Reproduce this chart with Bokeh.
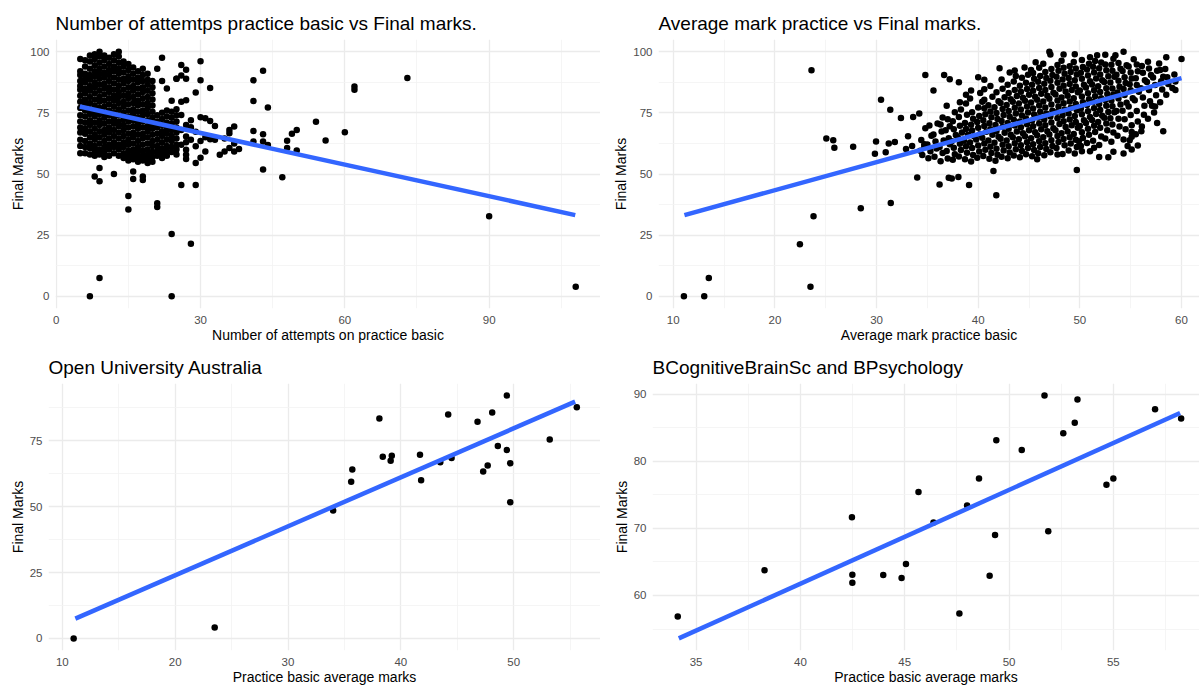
from bokeh.plotting import figure
from bokeh.layouts import column, row
from bokeh.models import FixedTicker, Range1d
from bokeh.embed import file_html
from bokeh.resources import INLINE

FONT = "Liberation Sans"

# ---------------- Panel 1: attempts vs final marks ----------------
att_points = [
    (5, 97), (5, 92), (5, 90.5), (5, 88), (5, 86), (5, 84.5), (5, 82), (5, 79.5), (5, 77), (5, 74), (5, 71.5), (5, 69), (5, 67), (5, 64), (5, 61.5), (5, 58.5),
    (6, 96.5), (6, 94), (6, 91), (6, 89), (6, 87.5), (6, 85), (6, 83), (6, 80.5), (6, 78.5), (6, 76), (6, 73.5), (6, 71), (6, 68.5), (6, 66.5), (6, 63.5), (6, 61), (6, 58.5),
    (7, 98.5), (7, 96), (7, 93), (7, 90.5), (7, 88.5), (7, 86), (7, 84), (7, 81.5), (7, 79), (7, 76.5), (7, 74.5), (7, 72), (7, 70), (7, 67.5), (7, 65), (7, 62.5), (7, 60.5), (7, 58), (7, 0),
    (8, 99), (8, 97), (8, 94.5), (8, 92), (8, 90), (8, 87.5), (8, 85.5), (8, 83), (8, 80.5), (8, 78), (8, 75.5), (8, 73.5), (8, 71), (8, 68.5), (8, 66), (8, 64), (8, 61.5), (8, 59.5), (8, 57.5), (8, 49),
    (9, 100), (9, 98), (9, 95.5), (9, 93), (9, 91), (9, 89), (9, 86.5), (9, 84), (9, 81.5), (9, 79.5), (9, 77), (9, 74.5), (9, 72), (9, 70), (9, 67.5), (9, 65), (9, 62.5), (9, 60), (9, 58), (9, 52.5), (9, 47), (9, 7.5),
    (10, 98.5), (10, 96.5), (10, 94), (10, 91.5), (10, 89.5), (10, 87), (10, 85), (10, 82.5), (10, 80), (10, 77.5), (10, 75), (10, 73), (10, 70.5), (10, 68), (10, 66), (10, 63.5), (10, 61), (10, 59), (10, 57),
    (11, 97.5), (11, 95), (11, 92.5), (11, 90.5), (11, 88), (11, 85.5), (11, 83.5), (11, 81), (11, 78.5), (11, 76), (11, 74), (11, 71.5), (11, 69), (11, 67), (11, 64.5), (11, 62), (11, 60), (11, 57.5),
    (12, 99), (12, 96.5), (12, 94), (12, 92), (12, 89.5), (12, 87), (12, 84.5), (12, 82), (12, 80), (12, 77.5), (12, 75), (12, 72.5), (12, 70.5), (12, 68), (12, 65.5), (12, 63), (12, 61), (12, 58.5), (12, 50),
    (13, 100), (13, 98), (13, 95.5), (13, 93), (13, 91), (13, 88.5), (13, 86), (13, 83.5), (13, 81.5), (13, 79), (13, 76.5), (13, 74), (13, 71.5), (13, 69.5), (13, 67), (13, 64.5), (13, 62), (13, 60), (13, 57.5),
    (14, 96), (14, 94), (14, 91.5), (14, 89), (14, 87), (14, 84.5), (14, 82), (14, 79.5), (14, 77.5), (14, 75), (14, 72.5), (14, 70), (14, 68), (14, 65.5), (14, 63), (14, 61), (14, 58.5), (14, 56.5),
    (15, 95), (15, 92.5), (15, 90), (15, 88), (15, 85.5), (15, 83), (15, 81), (15, 78.5), (15, 76), (15, 73.5), (15, 71.5), (15, 69), (15, 66.5), (15, 64), (15, 62), (15, 59.5), (15, 57.5), (15, 55.5), (15, 41), (15, 35.5),
    (16, 93.5), (16, 91), (16, 88.5), (16, 86), (16, 84), (16, 81.5), (16, 79), (16, 76.5), (16, 74.5), (16, 72), (16, 69.5), (16, 67), (16, 65), (16, 62.5), (16, 60), (16, 58), (16, 56), (16, 51), (16, 48),
    (17, 92), (17, 89.5), (17, 87.5), (17, 85), (17, 82.5), (17, 80), (17, 78), (17, 75.5), (17, 73), (17, 70.5), (17, 68.5), (17, 66), (17, 63.5), (17, 61), (17, 59), (17, 57), (17, 55),
    (18, 93), (18, 90.5), (18, 88), (18, 85.5), (18, 83.5), (18, 81), (18, 78.5), (18, 76), (18, 74), (18, 71.5), (18, 69), (18, 66.5), (18, 64.5), (18, 62), (18, 59.5), (18, 57.5), (18, 55.5), (18, 49), (18, 47.5),
    (19, 91), (19, 88.5), (19, 86.5), (19, 84), (19, 81.5), (19, 79), (19, 77), (19, 74.5), (19, 72), (19, 69.5), (19, 67.5), (19, 65), (19, 62.5), (19, 60), (19, 58), (19, 56), (19, 54.5),
    (20, 88), (20, 85.5), (20, 83), (20, 80.5), (20, 78), (20, 75.5), (20, 73), (20, 70.5), (20, 68.5), (20, 66), (20, 63.5), (20, 61.5), (20, 59), (20, 57), (20, 55),
    (21, 93), (21, 74), (21, 71.5), (21, 69), (21, 66.5), (21, 64), (21, 61.5), (21, 59.5), (21, 57.5), (21, 38), (21, 36.5),
    (22, 97.5), (22, 88), (22, 75), (22, 72.5), (22, 70), (22, 67.5), (22, 65.5), (22, 63), (22, 60.5), (22, 58.5), (22, 56.5),
    (23, 85), (23, 76), (23, 73.5), (23, 71), (23, 68.5), (23, 66.5), (23, 64), (23, 61.5), (23, 59.5), (23, 57.5),
    (24, 80), (24, 75.5), (24, 73), (24, 70.5), (24, 68), (24, 65.5), (24, 63.5), (24, 61), (24, 59), (24, 25.5), (24, 0),
    (25, 89), (25, 76.5), (25, 74), (25, 71.5), (25, 69), (25, 67), (25, 64.5), (25, 62), (25, 60), (25, 58),
    (26, 94.6), (27, 92.6), (30, 96.1), (25, 88.9), (26, 90.3), (27, 88.9), (30, 88.3), (29, 83.3), (32, 85.2),
    (26, 79.5), (27, 80.2), (41, 88.3), (43, 92.2), (41, 79.9), (44, 77.2), (62, 85.8), (62, 84.5),
    (26, 74.1), (30, 73.2), (31, 72.8), (32, 71.7), (33, 69.6), (36, 68.0), (37, 69.4), (36, 66.7),
    (41, 67.6), (43, 66.3), (49, 66.5), (50, 68.0), (54, 71.4), (60, 67.1), (56, 63.7), (41, 63.3),
    (43, 63.3), (44, 61.9), (48, 63.6), (48, 60.6), (50, 59.6), (43, 51.8), (47, 48.7),
    (27, 65.3), (28, 64.0), (29, 61.3), (27, 59.9), (27, 57.9), (27, 56.1), (29, 54.5), (30, 56.6),
    (31, 59.2), (32, 64.2), (33, 64.0), (34, 57.9), (35, 59.2), (36, 60.6), (37, 59.2), (38, 60.2),
    (26, 45.5), (29, 45.5), (28, 21.5), (28, 69.1), (29, 67.3), (73, 89.3), (90, 32.7), (108, 3.9),
    (37, 62.5), (35, 64.5), (26, 68), (27, 70), (28, 72), (26, 62), (27, 63), (30, 63.5), (31, 65),
]
att_x = [p[0] for p in att_points]
att_y = [p[1] for p in att_points]
att_fit_x = [4.9, 107.9]
att_fit_y = [77.6, 33.2]

# ---------------- Panel 2: average mark vs final marks ----------------
avg_points = [
    (11.05, 0), (13.05, 0), (13.5, 7.45), (23.5, 3.9), (22.46, 21.3), (23.8, 32.7), (23.6, 92.4),
    (28.45, 36.0), (31.4, 38.1), (25.06, 64.5), (25.74, 63.8), (25.85, 60.7), (27.7, 61.1),
    (29.95, 63.3), (29.84, 58.3), (30.9, 58.9), (31.2, 62.5), (31.8, 63.1), (30.44, 80.4),
    (31.35, 76.3), (32.4, 72.9), (33.1, 65.4), (33.6, 73.3), (34.2, 74.7), (34.8, 90.5),
    (35.6, 84.1), (34.0, 48.6), (36.2, 45.7), (37.1, 48.5), (37.4, 48.2), (38.05, 48.8),
    (39.1, 45.5), (41.78, 41.3), (41.5, 51.2), (49.7, 51.6), (36.65, 90.5), (37.2, 88.75),
    (38.1, 87.5), (36.9, 77.9), (38.2, 79.3), (38.8, 82.4), (39.3, 84.1), (40.0, 89.6),
    (40.6, 88.5), (40.6, 84.7), (40.6, 80.4), (42.1, 93.2), (43.1, 91.5), (43.6, 92.3),
    (44.56, 93.6), (45.2, 92.5), (45.65, 95.7), (47.0, 100), (47.1, 98.9), (48.4, 98.9),
    (49.5, 99), (51.0, 97.7), (51.7, 98.6), (52.5, 98.8), (53.5, 98.6), (54.3, 100),
    (55.3, 96.9), (56.7, 95.9), (58.5, 97.7), (60.0, 97.0), (57.9, 92.5), (58.2, 89.8),
    (59.4, 87.8), (59.4, 84.4), (57.6, 70.9), (58.2, 67.5), (57.4, 77.6), (57.1, 77.9),
    (56.35, 77.9), (55.1, 67.2), (55.1, 65.2), (54.7, 61.4), (56.05, 67.5), (55.7, 61.7),
    (55.1, 60.0), (54.3, 58.4), (53.3, 59.1), (52.8, 56.9), (51.9, 57.0), (51.4, 60.7),
    (51.0, 59.3), (49.9, 63.4), (50.2, 59.3), (47.8, 58.0), (45.8, 56.0), (32.9, 60.2),
    (33.5, 61.5), (34.3, 59.5), (34.7, 62.2),
    (34.5, 57.8), (34.7, 61.2), (34.4, 63.9), (34.8, 68.7),
    (35.1, 56.4), (35.3, 59.3), (35.0, 62.1), (35.4, 65.6), (35.2, 69.8),
    (35.7, 57.1), (35.9, 60.4), (35.8, 63.3), (35.6, 66.2), (36.0, 70.6),
    (36.3, 55.2), (36.5, 58.6), (36.2, 61.0), (36.6, 63.7), (36.4, 67.4), (36.3, 70.2), (36.5, 73.1),
    (37.0, 56.3), (36.9, 59.4), (37.2, 62.2), (37.1, 64.6), (36.8, 67.9), (37.2, 69.5), (37.0, 72.4),
    (37.5, 55.8), (37.7, 58.1), (37.6, 60.7), (37.4, 63.4), (37.8, 65.9), (37.6, 68.3), (37.5, 71.6), (37.7, 75.2),
    (38.1, 57.2), (38.3, 59.8), (38.2, 62.4), (38.0, 64.9), (38.4, 67.0), (38.2, 69.7), (38.1, 73.3), (38.3, 76.4),
    (38.7, 56.0), (38.9, 58.7), (38.8, 61.3), (38.6, 63.6), (39.0, 66.1), (38.8, 68.4), (38.7, 70.9), (38.9, 74.2), (38.8, 78.8),
    (39.3, 55.1), (39.5, 57.8), (39.4, 60.6), (39.2, 62.9), (39.6, 65.4), (39.4, 67.8), (39.3, 70.1), (39.5, 72.6), (39.4, 75.3), (39.2, 80.9),
    (39.9, 56.6), (40.1, 59.2), (40.0, 61.7), (39.8, 64.1), (40.2, 66.4), (40.0, 68.9), (39.9, 71.3), (40.1, 73.7), (40.0, 77.2), (40.2, 83.1),
    (40.5, 57.4), (40.7, 59.9), (40.6, 62.5), (40.4, 64.8), (40.8, 67.3), (40.6, 69.6), (40.5, 72.0), (40.7, 74.4), (40.6, 76.9), (40.4, 79.5),
    (41.1, 56.2), (41.3, 58.6), (41.2, 61.1), (41.0, 63.7), (41.4, 66.0), (41.2, 68.3), (41.1, 70.8), (41.3, 73.2), (41.2, 75.6), (41.0, 78.1), (41.4, 81.6), (41.2, 86.0),
    (41.7, 55.4), (41.9, 57.9), (41.8, 60.3), (41.6, 62.8), (42.0, 65.2), (41.8, 67.6), (41.7, 70.0), (41.9, 72.5), (41.8, 74.9), (41.6, 77.3), (42.0, 79.8), (41.8, 83.4),
    (42.3, 57.1), (42.5, 59.6), (42.4, 62.0), (42.2, 64.4), (42.6, 66.9), (42.4, 69.3), (42.3, 71.7), (42.5, 74.1), (42.4, 76.6), (42.2, 79.0), (42.6, 81.4), (42.4, 84.9), (42.3, 88.6),
    (42.9, 56.4), (43.1, 58.8), (43.0, 61.3), (42.8, 63.7), (43.2, 66.1), (43.0, 68.5), (42.9, 70.9), (43.1, 73.4), (43.0, 75.8), (42.8, 78.2), (43.2, 80.6), (43.0, 83.1), (42.9, 86.5),
    (43.5, 57.6), (43.7, 60.1), (43.6, 62.6), (43.4, 65.0), (43.8, 67.4), (43.6, 69.8), (43.5, 72.2), (43.7, 74.7), (43.6, 77.1), (43.4, 79.5), (43.8, 81.9), (43.6, 84.4), (43.5, 87.8), (43.7, 90.1),
    (44.1, 56.9), (44.3, 59.4), (44.2, 61.8), (44.0, 64.2), (44.4, 66.7), (44.2, 69.1), (44.1, 71.5), (44.3, 73.9), (44.2, 76.4), (44.0, 78.8), (44.4, 81.2), (44.2, 83.6), (44.1, 86.1), (44.3, 89.4),
    (44.7, 58.1), (44.9, 60.6), (44.8, 63.0), (44.6, 65.4), (45.0, 67.9), (44.8, 70.3), (44.7, 72.7), (44.9, 75.1), (44.8, 77.6), (44.6, 80.0), (45.0, 82.4), (44.8, 84.8), (44.7, 87.3), (44.9, 90.6),
    (45.3, 57.3), (45.5, 59.8), (45.4, 62.2), (45.2, 64.6), (45.6, 67.1), (45.4, 69.5), (45.3, 71.9), (45.5, 74.3), (45.4, 76.8), (45.2, 79.2), (45.6, 81.6), (45.4, 84.0), (45.3, 86.5), (45.5, 88.9), (45.4, 91.3),
    (45.9, 58.5), (46.1, 61.0), (46.0, 63.4), (45.8, 65.8), (46.2, 68.3), (46.0, 70.7), (45.9, 73.1), (46.1, 75.5), (46.0, 78.0), (45.8, 80.4), (46.2, 82.8), (46.0, 85.2), (45.9, 87.7), (46.1, 90.1), (46.0, 93.4),
    (46.5, 57.7), (46.7, 60.2), (46.6, 62.6), (46.4, 65.0), (46.8, 67.5), (46.6, 69.9), (46.5, 72.3), (46.7, 74.7), (46.6, 77.2), (46.4, 79.6), (46.8, 82.0), (46.6, 84.4), (46.5, 86.9), (46.7, 89.3), (46.6, 91.7), (46.4, 95.1),
    (47.1, 58.9), (47.3, 61.4), (47.2, 63.8), (47.0, 66.2), (47.4, 68.7), (47.2, 71.1), (47.1, 73.5), (47.3, 75.9), (47.2, 78.4), (47.0, 80.8), (47.4, 83.2), (47.2, 85.6), (47.1, 88.1), (47.3, 90.5), (47.2, 92.9),
    (47.7, 60.6), (47.9, 63.1), (47.8, 65.5), (47.6, 67.9), (48.0, 70.4), (47.8, 72.8), (47.7, 75.2), (47.9, 77.6), (47.8, 80.1), (47.6, 82.5), (48.0, 84.9), (47.8, 87.3), (47.7, 89.8), (47.9, 92.2), (47.8, 94.6),
    (48.3, 58.2), (48.5, 61.8), (48.4, 64.3), (48.2, 66.7), (48.6, 69.2), (48.4, 71.6), (48.3, 74.0), (48.5, 76.4), (48.4, 78.9), (48.2, 81.3), (48.6, 83.7), (48.4, 86.1), (48.3, 88.6), (48.5, 91.0), (48.4, 93.4), (48.2, 96.3),
    (48.9, 59.6), (49.1, 62.5), (49.0, 65.0), (48.8, 67.4), (49.2, 69.9), (49.0, 72.3), (48.9, 74.7), (49.1, 77.1), (49.0, 79.6), (48.8, 82.0), (49.2, 84.4), (49.0, 86.8), (48.9, 89.3), (49.1, 91.7), (49.0, 94.1),
    (49.5, 58.4), (49.7, 61.0), (49.6, 64.0), (49.4, 66.4), (49.8, 68.9), (49.6, 71.3), (49.5, 73.7), (49.7, 76.1), (49.6, 78.6), (49.4, 81.0), (49.8, 83.4), (49.6, 85.8), (49.5, 88.3), (49.7, 90.7), (49.6, 93.1), (49.4, 95.8),
    (50.1, 61.4), (50.3, 64.7), (50.2, 67.1), (50.0, 69.6), (50.4, 72.0), (50.2, 74.4), (50.1, 76.8), (50.3, 79.3), (50.2, 81.7), (50.0, 84.1), (50.4, 86.5), (50.2, 89.0), (50.1, 91.4), (50.3, 93.8), (50.2, 96.6),
    (50.7, 62.7), (50.9, 66.0), (50.8, 68.5), (50.6, 70.9), (51.0, 73.3), (50.8, 75.7), (50.7, 78.2), (50.9, 80.6), (50.8, 83.0), (50.6, 85.4), (51.0, 87.9), (50.8, 90.3), (50.7, 92.7), (50.9, 95.1),
    (51.3, 63.6), (51.5, 67.2), (51.4, 69.7), (51.2, 72.1), (51.6, 74.5), (51.4, 76.9), (51.3, 79.4), (51.5, 81.8), (51.4, 84.2), (51.2, 86.6), (51.6, 89.1), (51.4, 91.5), (51.3, 93.9), (51.5, 96.2),
    (51.9, 61.9), (52.1, 65.3), (52.0, 68.9), (51.8, 71.3), (52.2, 73.8), (52.0, 76.2), (51.9, 78.6), (52.1, 81.0), (52.0, 83.5), (51.8, 85.9), (52.2, 88.3), (52.0, 90.7), (51.9, 93.2), (52.1, 95.6),
    (52.5, 64.5), (52.7, 67.9), (52.6, 70.6), (52.4, 73.0), (52.8, 75.4), (52.6, 77.9), (52.5, 80.3), (52.7, 82.7), (52.6, 85.1), (52.4, 87.6), (52.8, 90.0), (52.6, 92.4), (52.5, 94.8),
    (53.1, 63.2), (53.3, 67.0), (53.2, 70.2), (53.0, 72.8), (53.4, 75.3), (53.2, 77.7), (53.1, 80.1), (53.3, 82.5), (53.2, 85.0), (53.0, 87.4), (53.4, 89.8), (53.2, 92.2), (53.1, 94.7), (53.3, 97.1),
    (53.7, 65.6), (53.9, 69.4), (53.8, 72.6), (53.6, 75.8), (54.0, 78.4), (53.8, 80.9), (53.7, 83.3), (53.9, 85.7), (53.8, 88.1), (53.6, 90.6), (54.0, 93.0), (53.8, 95.4),
    (54.3, 64.1), (54.5, 68.3), (54.4, 72.4), (54.2, 75.9), (54.6, 79.1), (54.4, 82.3), (54.3, 84.8), (54.5, 87.2), (54.4, 89.6), (54.2, 92.1), (54.6, 94.5),
    (54.9, 63.8), (55.1, 69.9), (55.0, 74.1), (54.8, 77.6), (55.2, 81.0), (55.0, 84.2), (54.9, 86.7), (55.1, 89.1), (55.0, 91.5), (54.8, 94.0),
    (55.5, 66.3), (55.7, 71.5), (55.6, 75.8), (55.4, 80.2), (55.8, 83.6), (55.6, 86.4), (55.5, 89.2), (55.7, 92.0), (55.6, 94.8),
    (56.1, 69.4), (56.3, 74.2), (56.2, 81.3), (56.0, 85.1), (56.4, 88.3), (56.2, 91.4), (56.1, 94.2),
    (56.7, 72.6), (56.9, 79.8), (56.8, 84.3), (56.6, 87.6), (57.0, 90.5), (56.8, 93.1),
    (57.3, 75.1), (57.5, 82.2), (57.4, 86.4), (57.2, 89.5), (57.6, 92.2),
    (57.9, 79.3), (58.1, 84.6), (58.0, 87.9), (57.8, 95.2),
    (58.5, 82.4), (58.7, 86.8), (58.6, 89.6), (58.4, 92.9),
    (59.1, 85.2), (59.3, 90.7),
]
avg_x = [p[0] for p in avg_points]
avg_y = [p[1] for p in avg_points]
avg_fit_x = [11.1, 60.0]
avg_fit_y = [33.2, 89.2]

# ---------------- Panel 3: Open University Australia ----------------
oua_x = [11.0, 23.5, 34.0, 35.6, 35.7, 38.1, 38.4, 39.2, 39.1, 41.7, 41.8, 43.5, 44.2,
         44.5, 46.8, 47.3, 47.7, 48.1, 48.6, 49.4, 49.4, 49.7, 49.7, 53.2, 55.6]
oua_y = [0.0, 4.1, 48.6, 59.5, 64.1, 83.5, 69.0, 69.4, 67.5, 69.7, 60.1, 66.9, 85.0,
         68.5, 82.3, 63.4, 65.7, 85.8, 73.1, 92.2, 71.5, 66.5, 51.7, 75.5, 87.8]
oua_fit_x = [11.15, 55.45]
oua_fit_y = [7.5, 89.9]

# ---------------- Panel 4: BCognitiveBrainSc and BPsychology ----------------
cog_x = [34.12, 38.28, 42.47, 42.49, 42.49, 43.97, 44.85, 45.06, 45.66, 46.38, 47.62, 47.99, 48.56,
         49.07, 49.33, 49.39, 50.61, 51.70, 51.88, 52.60, 53.15, 53.28, 54.67, 55.00, 57.00, 58.25]
cog_y = [56.86, 63.77, 71.67, 63.09, 61.91, 63.04, 62.60, 64.71, 75.44, 70.88, 57.30, 73.43, 77.45,
         62.94, 69.02, 83.14, 81.67, 89.80, 69.56, 84.17, 85.74, 89.22, 76.52, 77.45, 87.75, 86.37]
cog_fit_x = [34.17, 58.2]
cog_fit_y = [53.6, 87.2]

titles = ["Number of attemtps practice basic vs Final marks.",
          "Average mark practice vs Final marks.",
          "Open University Australia",
          "BCognitiveBrainSc and BPsychology"]
x_labels = ["Number of attempts on practice basic", "Average mark practice basic",
            "Practice basic average marks", "Practice basic average marks"]
y_label = "Final Marks"


def make_panel(title, w, h, xr, yr, xt, xm, yt, ym, xlabel, left, top, bottom,
               px, py, fx, fy):
    p = figure(width=w, height=h, x_range=Range1d(*xr), y_range=Range1d(*yr),
               output_backend="svg", toolbar_location=None,
               min_border_left=left, min_border_right=0,
               min_border_top=top, min_border_bottom=bottom)
    p.title.text = title
    p.title.text_font = FONT
    p.title.text_font_size = "19px"
    p.title.text_font_style = "normal"
    p.title.text_color = "#000000"
    p.title.standoff = 11
    p.outline_line_color = None
    p.background_fill_color = "white"
    p.border_fill_color = "white"
    p.xaxis.ticker = FixedTicker(ticks=xt, minor_ticks=xm)
    p.yaxis.ticker = FixedTicker(ticks=yt, minor_ticks=ym)
    for ax in (p.xaxis, p.yaxis):
        ax.axis_line_color = None
        ax.major_tick_line_color = None
        ax.minor_tick_line_color = None
        ax.major_tick_out = 0
        ax.major_tick_in = 0
        ax.minor_tick_out = 0
        ax.minor_tick_in = 0
        ax.major_label_text_font = FONT
        ax.major_label_text_font_size = "11.5px"
        ax.major_label_text_color = "#4D4D4D"
        ax.axis_label_text_font = FONT
        ax.axis_label_text_font_size = "14px"
        ax.axis_label_text_font_style = "normal"
        ax.axis_label_text_color = "#000000"
    p.xaxis.major_label_standoff = 7
    p.xaxis.axis_label_standoff = 0
    p.yaxis.major_label_standoff = 6
    p.yaxis.axis_label_standoff = 1
    p.xaxis.axis_label = xlabel
    p.yaxis.axis_label = y_label
    p.grid.grid_line_color = "#EBEBEB"
    p.grid.grid_line_width = 1.3
    p.grid.minor_grid_line_color = "#F2F2F2"
    p.grid.minor_grid_line_width = 0.8
    p.scatter(px, py, size=6.5, fill_color="black", line_color=None)
    p.line(fx, fy, line_color="#3366FF", line_width=4.5)
    return p


p1 = make_panel(titles[0], 600, 345, (-0.15, 113.15), (-5, 105),
                [0, 30, 60, 90], [15, 45, 75, 105],
                [0, 25, 50, 75, 100], [12.5, 37.5, 62.5, 87.5],
                x_labels[0], 55, 39, 35, att_x, att_y, att_fit_x, att_fit_y)
p2 = make_panel(titles[1], 599, 345, (8.55, 61.77), (-5, 105),
                [10, 20, 30, 40, 50, 60], [15, 25, 35, 45, 55],
                [0, 25, 50, 75, 100], [12.5, 37.5, 62.5, 87.5],
                x_labels[1], 58, 39, 35, avg_x, avg_y, avg_fit_x, avg_fit_y)
p3 = make_panel(titles[2], 600, 342, (8.77, 57.7), (-4.6, 96.8),
                [10, 20, 30, 40, 50], [15, 25, 35, 45, 55],
                [0, 25, 50, 75], [12.5, 37.5, 62.5, 87.5],
                x_labels[2], 48, 38, 33, oua_x, oua_y, oua_fit_x, oua_fit_y)
p4 = make_panel(titles[3], 599, 342, (32.91, 59.13), (51.8, 91.6),
                [35, 40, 45, 50, 55], [37.5, 42.5, 47.5, 52.5, 57.5],
                [60, 70, 80, 90], [55, 65, 75, 85],
                x_labels[3], 52, 38, 33, cog_x, cog_y, cog_fit_x, cog_fit_y)

layout = column(row(p1, p2), row(p3, p4))
open("out.html", "w").write(file_html(layout, INLINE))
